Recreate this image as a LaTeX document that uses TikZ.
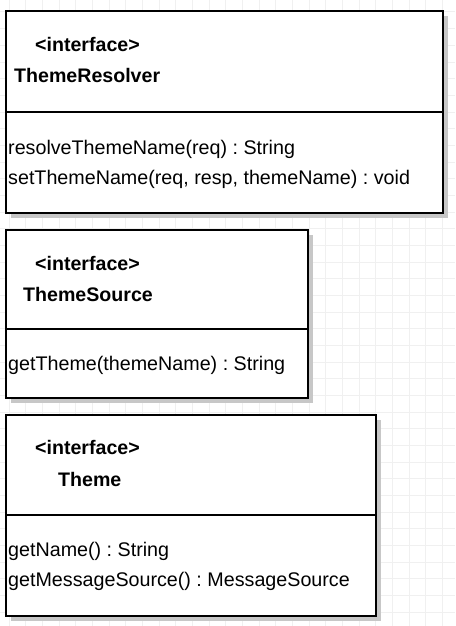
\documentclass[tikz,border=0pt]{standalone}
\usepackage{fontspec}
\setmainfont{Liberation Sans}
\usetikzlibrary{shadows}
\frenchspacing

\tikzset{
  umlbox/.style={draw, line width=1.6pt, fill=white, anchor=north west, inner sep=0pt,
    drop shadow={shadow xshift=5pt, shadow yshift=-5pt, fill=black!22, opacity=1}},
  divider/.style={line width=1.2pt},
  stereo/.style={anchor=base west, inner sep=0pt, font=\fontsize{19.6}{22}\selectfont\bfseries},
  member/.style={anchor=base west, inner sep=0pt, font=\fontsize{19.7}{22}\selectfont},
}

\begin{document}
\begin{tikzpicture}[x=1pt, y=-1pt]
        \useasboundingbox (0,0) rectangle (455,626);

        % background grid
        \foreach \i in {0,...,27}
            \draw[black!6, line width=1pt] (9+\i*16.667,0) -- (9+\i*16.667,626);
        \foreach \j in {0,...,37}
            \draw[black!6, line width=1pt] (0,12+\j*16.667) -- (455,12+\j*16.667);

        % ThemeResolver
        \node[umlbox, minimum width=437pt, minimum height=202pt] (resolver) at (5,10) {};
        \path (resolver.north west) ++(0,102) coordinate (resolversplit);
        \draw[divider] (resolversplit) -- (resolversplit -| resolver.east);
        \node[stereo] (resolverstereo) at (35,51.5) {<interface>};
        \node[stereo] (resolvername) at (14,82.5) {ThemeResolver};
        \node[member] (resolveop) at (8,154) {resolveThemeName(req) : String};
        \node[member] (setop) at (8,184) {setThemeName(req, resp, themeName) : void};

        % ThemeSource
        \node[umlbox, minimum width=302pt, minimum height=168pt] (source) at (5,229) {};
        \path (source.north west) ++(0,100) coordinate (sourcesplit);
        \draw[divider] (sourcesplit) -- (sourcesplit -| source.east);
        \node[stereo] (sourcestereo) at (35,270.5) {<interface>};
        \node[stereo] (sourcename) at (23,301.5) {ThemeSource};
        \node[member] (getthemeop) at (8,370.5) {getTheme(themeName) : String};

        % Theme
        \node[umlbox, minimum width=370pt, minimum height=201pt] (theme) at (5,414) {};
        \path (theme.north west) ++(0,101) coordinate (themesplit);
        \draw[divider] (themesplit) -- (themesplit -| theme.east);
        \node[stereo] (themestereo) at (35,454) {<interface>};
        \node[stereo] (themename) at (58,486) {Theme};
        \node[member] (getnameop) at (8,556.5) {getName() : String};
        \node[member] (getmsgop) at (8,586.5) {getMessageSource() : MessageSource};

\end{tikzpicture}
\end{document}
